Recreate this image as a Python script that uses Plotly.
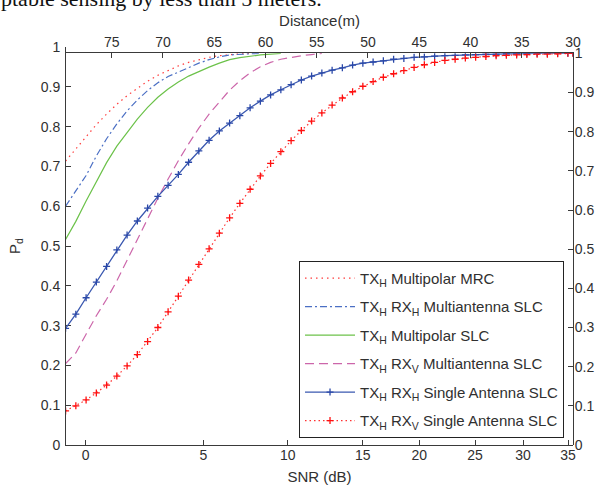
import plotly.graph_objects as go

# ---------------- data ----------------
dist_m = [79.5, 78.5, 77.5, 76.5, 75.5, 74.5, 73.5, 72.5, 71.5, 70.5,
          69.5, 68.5, 67.5, 66.5, 65.5, 64.5, 63.5, 62.5, 61.5, 60.5,
          59.5, 58.5, 57.5, 56.5, 55.5, 54.5, 53.5, 52.5, 51.5, 50.5,
          49.5, 48.5, 47.5, 46.5, 45.5, 44.5, 43.5, 42.5, 41.5, 40.5,
          39.5, 38.5, 37.5, 36.5, 35.5, 34.5, 33.5, 32.5, 31.5, 30.5, 30.0]

pd_mrc = [0.725, 0.757, 0.789, 0.818, 0.845, 0.870, 0.892, 0.911, 0.929, 0.944,
          0.957, 0.968, 0.977, 0.984, 0.990, 0.994, 0.997, 0.999, 1.0]

pd_multi_hh = [0.610, 0.648, 0.688, 0.738, 0.782, 0.820, 0.853, 0.881, 0.905, 0.925,
               0.941, 0.952, 0.964, 0.975, 0.984, 0.991, 0.996, 0.998, 0.999, 1.0]

pd_multipolar_slc = [0.525, 0.571, 0.623, 0.673, 0.721, 0.763, 0.798, 0.832, 0.862, 0.888,
                     0.909, 0.927, 0.942, 0.954, 0.965, 0.975, 0.984, 0.989, 0.993, 0.996,
                     0.998, 1.0]

pd_multi_hv = [0.208, 0.235, 0.283, 0.330, 0.372, 0.419, 0.472, 0.526, 0.579, 0.630,
               0.679, 0.726, 0.769, 0.809, 0.845, 0.877, 0.906, 0.930, 0.950, 0.966,
               0.977, 0.985, 0.990, 0.994, 0.997, 1.0]

pd_single_hh = [0.298, 0.334, 0.376, 0.416, 0.456, 0.498, 0.536, 0.572, 0.605, 0.635,
                0.663, 0.691, 0.722, 0.751, 0.778, 0.802, 0.822, 0.841, 0.861, 0.878,
                0.894, 0.907, 0.920, 0.932, 0.942, 0.950, 0.957, 0.963, 0.970, 0.975,
                0.978, 0.981, 0.985, 0.987, 0.990, 0.991, 0.993, 0.994, 0.995, 0.996,
                0.997, 0.998, 0.998, 0.999, 0.999, 1.0, 1.0, 1.0, 1.0, 1.0, 1.0]

pd_single_hv = [0.087, 0.100, 0.115, 0.133, 0.153, 0.176, 0.202, 0.231, 0.264, 0.300,
                0.340, 0.380, 0.421, 0.461, 0.501, 0.541, 0.580, 0.617, 0.653, 0.687,
                0.719, 0.749, 0.777, 0.803, 0.827, 0.848, 0.868, 0.886, 0.902, 0.916,
                0.928, 0.939, 0.948, 0.956, 0.964, 0.971, 0.977, 0.982, 0.985, 0.988,
                0.990, 0.992, 0.994, 0.995, 0.996, 0.997, 0.998, 0.998, 0.999, 1.0, 1.0]

# SNR tick labels and the distance (m) at which each SNR value occurs
snr_labels = ["0", "5", "10", "15", "20", "25", "30", "35"]
snr_at_dist_m = [77.54, 66.06, 57.83, 50.51, 44.99, 39.56, 34.87, 30.48]

dist_ticks = [75, 70, 65, 60, 55, 50, 45, 40, 35, 30]
pd_ticks = [0, 0.1, 0.2, 0.3, 0.4, 0.5, 0.6, 0.7, 0.8, 0.9, 1]

series = [
    ("TX<sub>H</sub> Multipolar MRC", pd_mrc),
    ("TX<sub>H</sub> RX<sub>H</sub> Multiantenna SLC", pd_multi_hh),
    ("TX<sub>H</sub> Multipolar SLC", pd_multipolar_slc),
    ("TX<sub>H</sub> RX<sub>V</sub> Multiantenna SLC", pd_multi_hv),
    ("TX<sub>H</sub> RX<sub>H</sub> Single Antenna SLC", pd_single_hh),
    ("TX<sub>H</sub> RX<sub>V</sub> Single Antenna SLC", pd_single_hv),
]

styles = [
    dict(mode="lines", line=dict(color="#ff3b3b", width=1.2, dash="1.5px,4px")),
    dict(mode="lines", line=dict(color="#4b6fc4", width=1.2, dash="7px,3px,2px,3px")),
    dict(mode="lines", line=dict(color="#6cc24a", width=1.2)),
    dict(mode="lines", line=dict(color="#cc66aa", width=1.2, dash="9px,5px")),
    dict(mode="lines+markers", line=dict(color="#3a58b0", width=1.3),
         marker=dict(symbol="cross-thin", size=5, line=dict(color="#2a48a8", width=1.3))),
    dict(mode="lines+markers", line=dict(color="#ff3030", width=1.2, dash="1.5px,3px"),
         marker=dict(symbol="cross-thin", size=5, line=dict(color="#ff1010", width=1.3))),
]

FONT = "Liberation Sans, Arial, sans-serif"
AX = "#3a3a3a"

fig = go.Figure()
# empty trace so the primary (SNR / left P_d) axes are drawn
fig.add_trace(go.Scatter(x=[None], y=[None], xaxis="x", yaxis="y", mode="lines",
                         showlegend=False, hoverinfo="skip"))
for i, ((name, vals), st) in enumerate(zip(series, styles)):
    fig.add_trace(go.Scatter(x=dist_m[:len(vals)], y=vals, name=name,
                             xaxis="x2", yaxis="y2", legendgroup=f"g{i}",
                             **st))

common = dict(showgrid=False, zeroline=False, showline=True, linecolor=AX,
              linewidth=1, ticks="inside", ticklen=5, tickcolor=AX, automargin=False,
              tickfont=dict(family=FONT, size=14, color="#303030"))

fig.update_layout(
    template="none",
    width=599, height=486, autosize=False,
    margin=dict(l=66, r=26, t=47, b=41, pad=0),
    paper_bgcolor="white", plot_bgcolor="rgba(0,0,0,0)",
    font=dict(family=FONT, size=14, color="#303030"),
    xaxis=dict(range=[79.46, 30], tickvals=snr_at_dist_m, ticktext=snr_labels,
               anchor="y", side="bottom", domain=[0, 1], ticklabelstandoff=-3,
               title=dict(text="SNR (dB)", font=dict(size=15), standoff=9), **common),
    yaxis=dict(range=[0, 1], tickvals=pd_ticks, anchor="x", domain=[0, 1],
               ticklabelstandoff=2,
               title=dict(text="P<sub>d</sub>", font=dict(size=15), standoff=16), **common),
    xaxis2=dict(range=[79.46, 30], tickvals=dist_ticks, anchor="y2", side="top",
                domain=[0, 1],
                title=dict(text="Distance(m)", font=dict(size=15), standoff=3), **common),
    yaxis2=dict(range=[0, 1], tickvals=pd_ticks, anchor="x2", side="right",
                domain=[0, 0.984], ticklabelstandoff=-2, **common),
    legend=dict(x=0.4596, y=0.4627, xanchor="left", yanchor="top",
                bgcolor="white", bordercolor="#222", borderwidth=1,
                font=dict(family=FONT, size=15, color="#303030"),
                itemwidth=50, tracegroupgap=6, traceorder="grouped"),
    showlegend=True,
)

fig.add_annotation(text="ptable sensing by less than 5 meters.", xref="paper", yref="paper",
                   x=-0.132, y=1.085, xanchor="left", yanchor="bottom", showarrow=False,
                   font=dict(family="Liberation Serif, Times New Roman, serif", size=22,
                             color="#111"))

fig.write_html("out.html", config={"displayModeBar": False},
               post_script="document.body.style.margin='0';document.body.style.overflow='hidden';")
